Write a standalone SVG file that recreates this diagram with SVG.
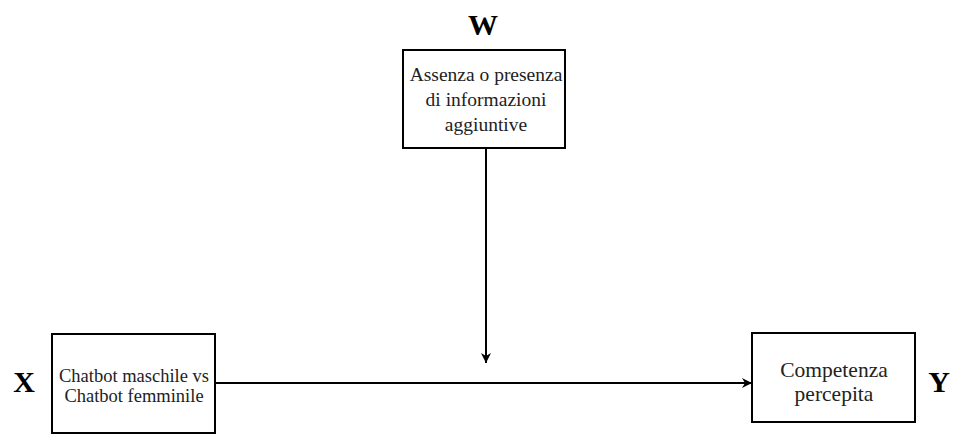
<svg xmlns="http://www.w3.org/2000/svg" width="961" height="435" viewBox="0 0 961 435">
  <style>
    .box { fill: #ffffff; stroke: #000000; stroke-width: 2; }
    .txt { font-family: "Liberation Serif", "Times New Roman", serif; fill: #222222; text-anchor: middle; }
    .var { font-family: "Liberation Serif", "Times New Roman", serif; font-weight: bold; fill: #000000; text-anchor: middle; font-size: 30px; }
    .edge { stroke: #000000; stroke-width: 2; fill: none; }
  </style>
  <defs>
    <marker id="arrow" viewBox="0 0 10 10" refX="10" refY="5" markerWidth="5" markerHeight="5" orient="auto" markerUnits="strokeWidth">
      <path d="M0,0 L10,5 L0,10 L3,5 Z" fill="#000000"/>
    </marker>
  </defs>
  <rect width="961" height="435" fill="#ffffff"/>

  <g id="connectors">
    <line class="edge" x1="486" y1="148" x2="486" y2="363" marker-end="url(#arrow)"/>
    <line class="edge" x1="215" y1="383" x2="752" y2="383" marker-end="url(#arrow)"/>
  </g>

  <g id="node-w">
    <text class="var" x="483" y="35">W</text>
    <rect class="box" x="403" y="50" width="162" height="98"/>
    <text class="txt" font-size="19.5" x="486" y="81">Assenza o presenza</text>
    <text class="txt" font-size="19.5" x="486" y="106">di informazioni</text>
    <text class="txt" font-size="19.5" x="486" y="131">aggiuntive</text>
  </g>

  <g id="node-x">
    <text class="var" x="24" y="392">X</text>
    <rect class="box" x="52" y="334" width="163" height="99"/>
    <text class="txt" font-size="18.5" x="134" y="382">Chatbot maschile vs</text>
    <text class="txt" font-size="18.5" x="134" y="402">Chatbot femminile</text>
  </g>

  <g id="node-y">
    <rect class="box" x="752" y="333" width="163" height="89"/>
    <text class="txt" font-size="21.5" x="834" y="377">Competenza</text>
    <text class="txt" font-size="21.5" x="834" y="401">percepita</text>
    <text class="var" x="939" y="392">Y</text>
  </g>
</svg>
